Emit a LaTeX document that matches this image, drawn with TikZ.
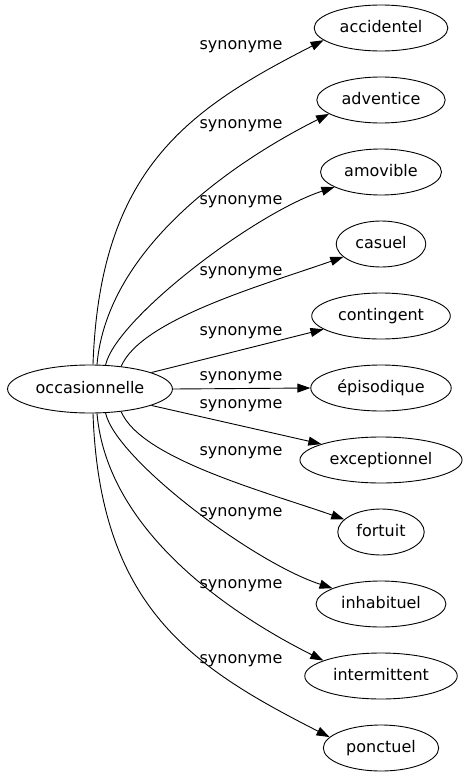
\documentclass[tikz,border=0pt]{standalone}
\usepackage{fontspec}
\setmainfont{DejaVu Sans}
\usetikzlibrary{arrows.meta,shapes.geometric}

\begin{document}
\begin{tikzpicture}[x=1pt,y=1pt,->,>={Triangle[length=13pt,width=9pt]},node distance=72pt,
    line width=0.9pt,font=\fontsize{16}{19}\selectfont]
    \tikzstyle{word}=[ellipse,draw=black,text=black,minimum height=46pt,inner xsep=6pt,inner ysep=0pt,text height=12pt,text depth=3pt]
    \tikzstyle{rel}=[text=black,inner sep=0pt]
    \useasboundingbox (0,0) rectangle (466,-779);
    \node[word,minimum height=48pt,inner xsep=4pt] (0) at (90,-389) {occasionnelle};
    \node[word]                  (1) at (381,-28)     {accidentel};
    \node[word]                  (2) [below of=1]     {adventice};
    \node[word]                  (3) [below of=2]     {amovible};
    \node[word]                  (4) [below of=3]     {casuel};
    \node[word]                  (5) [below of=4]     {contingent};
    \node[word]                  (6) [below of=5]     {épisodique};
    \node[word]                  (7) [below of=6]     {exceptionnel};
    \node[word]                  (8) [below of=7]     {fortuit};
    \node[word]                  (9) [below of=8]     {inhabituel};
    \node[word]                  (10) [below of=9]    {intermittent};
    \node[word]                  (11) [below of=10]   {ponctuel};
    \node[rel] (l1)  at (241,-47)  {synonyme};
    \node[rel] (l2)  at (241,-126) {synonyme};
    \node[rel] (l3)  at (241,-202) {synonyme};
    \node[rel] (l4)  at (241,-273) {synonyme};
    \node[rel] (l5)  at (241,-333) {synonyme};
    \node[rel] (l6)  at (241,-378) {synonyme};
    \node[rel] (l7)  at (241,-406) {synonyme};
    \node[rel] (l8)  at (241,-453) {synonyme};
    \node[rel] (l9)  at (241,-514) {synonyme};
    \node[rel] (l10) at (241,-586) {synonyme};
    \node[rel] (l11) at (241,-661) {synonyme};
    \path (0.83)  edge [out=88,in=207,out distance=195pt,in distance=153pt]   (1.192)
          (0.74)  edge [out=85,in=206.6,out distance=120pt,in distance=100pt] (2.195)
          (0.57)  edge [out=77.7,in=198,out distance=47pt,in distance=84pt]   (3.198)
          (0.36)  edge [out=67,in=199.3,out distance=51pt,in distance=85pt]   (4.199)
          (0.15)  edge []                                                      (5.193)
          (0.east) edge []                                                     (6.west)
          (0.-15) edge []                                                      (7.165)
          (0.-36) edge [out=-67,in=160.7,out distance=51pt,in distance=85pt]  (8.161)
          (0.-57) edge [out=-77.7,in=162,out distance=47pt,in distance=84pt]  (9.162)
          (0.-74) edge [out=-85,in=153.4,out distance=120pt,in distance=100pt] (10.165)
          (0.-83) edge [out=-88,in=153,out distance=195pt,in distance=153pt]  (11.168);
\end{tikzpicture}
\end{document}
